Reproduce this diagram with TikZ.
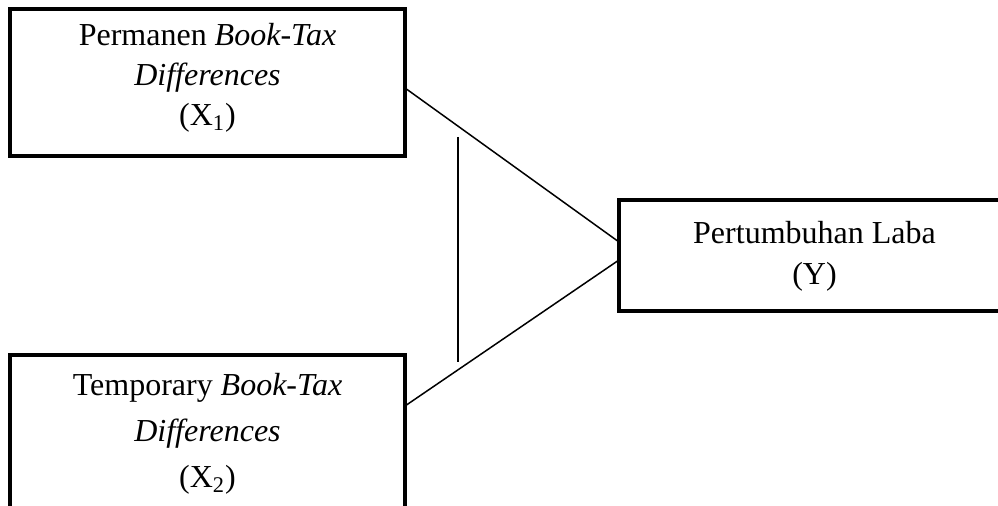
\documentclass[tikz,border=0pt]{standalone}
\usepackage{fontspec}
\setmainfont{Liberation Serif}
\usetikzlibrary{positioning, calc}

\begin{document}
\begin{tikzpicture}[
    x=0.5pt, y=-0.5pt,
    varbox/.style={rectangle, draw, line width=2.25pt, inner sep=0pt, outer sep=0pt},
    vartext/.style={align=center, inner sep=0pt, font=\fontsize{16}{20}\selectfont},
    link/.style={line width=0.75pt}
]
    \useasboundingbox (0,0) rectangle (998,506);

    % Variable boxes
    \node[varbox, minimum width=197.5pt, minimum height=73.5pt] (x1) at (207.5,82.5) {};
    \node[varbox, minimum width=197.5pt, minimum height=110pt] (x2) at (207.5,465) {};
    \node[varbox, minimum width=195.5pt, minimum height=55.5pt] (y) at (814.5,255.5) {};

    % Texts
    \node[vartext, below=7pt of x1.north] (x1txt) {Permanen \textit{Book-Tax}\\\textit{Differences}\\(X\textsubscript{1})};
    \node[vartext, below=9pt of x2.north, font=\fontsize{16}{23}\selectfont] (x2txt) {Temporary \textit{Book-Tax}\\\textit{Differences}\\(X\textsubscript{2})};
    \node[vartext, below=10.5pt of y.north, font=\fontsize{16}{20.5}\selectfont] (ytxt) {Pertumbuhan Laba\\(Y)};

    % Links
    \draw[link] ([yshift=-2.75pt]x1.east) -- ([yshift=6.75pt]y.west);
    \draw[link] ([yshift=-25.5pt]x2.north east) -- ([yshift=-2.25pt]y.west);
    \coordinate (simtop) at (458,137);
    \coordinate (simbot) at (458,362);
    \draw[link, line width=0.6pt] (simtop) -- (simbot);
\end{tikzpicture}
\end{document}
